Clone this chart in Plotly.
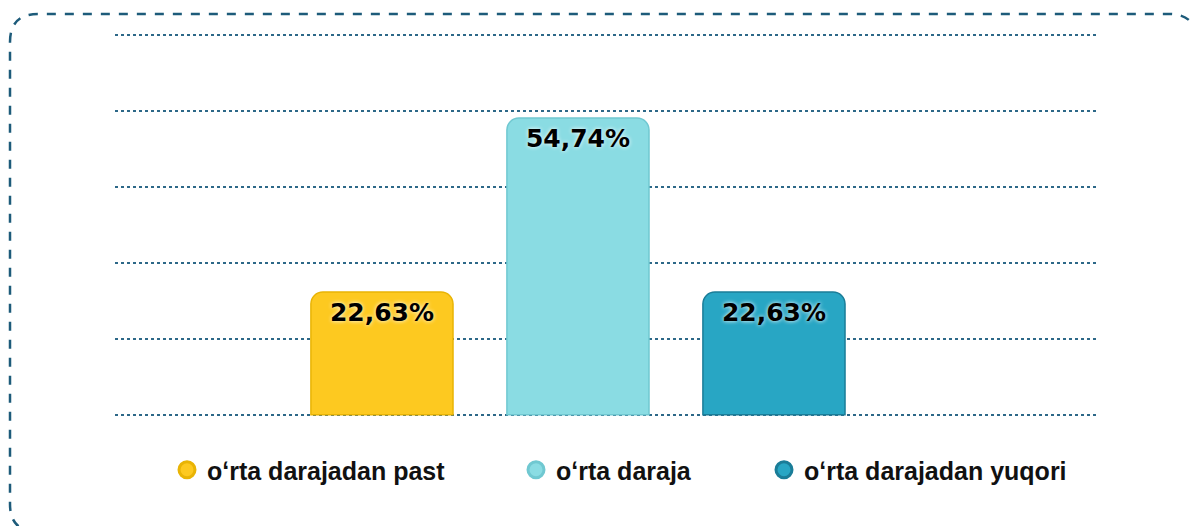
import plotly.graph_objects as go

# --- data ---
categories = ["oʻrta darajadan past", "oʻrta daraja", "oʻrta darajadan yuqori"]
values = [22.63, 54.74, 22.63]
labels = ["22,63%", "54,74%", "22,63%"]

fills = ["#FDC920", "#8ADCE3", "#28A6C4"]
edges = ["#E9B405", "#70C8D1", "#1A7D98"]

W, H = 1191, 526
ML, MR, MT, MB = 115, 95, 32, 108
PW, PH = W - ML - MR, H - MT - MB


def px(x):
    return (x - ML) / PW


def py(y):
    return (H - MB - y) / PH


fig = go.Figure()

fig.add_trace(go.Bar(
    x=[0, 1, 2], y=values,
    width=0.725,
    marker=dict(color=fills, line=dict(color=edges, width=1.5), cornerradius=12),
    text=labels, textposition="inside", insidetextanchor="end",
    textfont=dict(family="DejaVu Sans", size=25, color="#000000",
                  weight="bold", shadow="0px 0px 4px #ffffff"),
    showlegend=False, hoverinfo="skip",
))

# legend entries with round markers, one legend box per entry
legend_left = [167, 516, 764]
legend_ids = ["legend", "legend2", "legend3"]
for name, fc, ec, lid in zip(categories, fills, edges, legend_ids):
    fig.add_trace(go.Scatter(
        x=[None], y=[None], mode="markers", name=name, legend=lid,
        marker=dict(symbol="circle", size=16, color=fc, line=dict(color=ec, width=3)),
    ))

legend_style = dict(
    orientation="h", xanchor="left", yanchor="middle", y=py(470),
    font=dict(family="Liberation Sans", size=25, color="#111111", weight="bold"),
    itemsizing="trace", itemwidth=30, bgcolor="rgba(0,0,0,0)",
)
legends = {lid: dict(legend_style, x=px(xl)) for lid, xl in zip(legend_ids, legend_left)}

# dashed rounded frame (runs off the right and bottom edges)
x0, y0, x1, y1, r = 10, 14, 1197, 532, 28
path = (
    f"M {px(x0)},{py(y0 + r)} "
    f"Q {px(x0)},{py(y0)} {px(x0 + r)},{py(y0)} "
    f"L {px(x1 - r)},{py(y0)} "
    f"Q {px(x1)},{py(y0)} {px(x1)},{py(y0 + r)} "
    f"L {px(x1)},{py(y1 - r)} "
    f"Q {px(x1)},{py(y1)} {px(x1 - r)},{py(y1)} "
    f"L {px(x0 + r)},{py(y1)} "
    f"Q {px(x0)},{py(y1)} {px(x0)},{py(y1 - r)} Z"
)
fig.add_shape(type="path", path=path, xref="paper", yref="paper",
              line=dict(color="#1D5B7A", width=2.5, dash="dash"), layer="below")

fig.update_layout(
    width=W, height=H,
    margin=dict(l=ML, r=MR, t=MT, b=MB, autoexpand=False),
    plot_bgcolor="white", paper_bgcolor="white",
    xaxis=dict(range=[-1.362, 3.643], showticklabels=False, showgrid=False,
               zeroline=False, showline=False, fixedrange=True),
    yaxis=dict(range=[-0.6, 70.6], dtick=14, tick0=0, showticklabels=False,
               showgrid=True, gridcolor="#2D6888", gridwidth=2, griddash="dot",
               zeroline=False, showline=False, fixedrange=True),
    showlegend=True,
    **legends,
)

fig.write_html("out.html", config={"displayModeBar": False},
               post_script="document.body.style.margin='0';")
